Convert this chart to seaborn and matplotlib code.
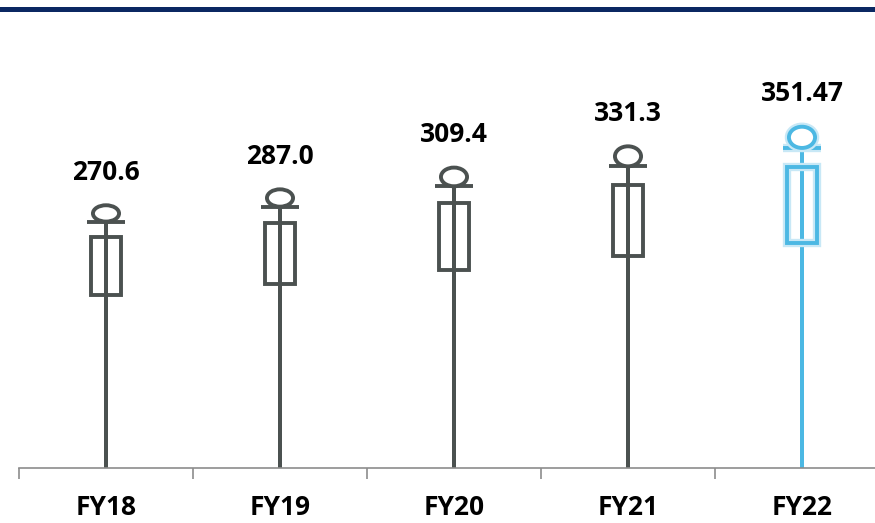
import seaborn as sns
import matplotlib.pyplot as plt
import pandas as pd
from matplotlib.patches import Ellipse, Rectangle

years = ["FY18", "FY19", "FY20", "FY21", "FY22"]
values = [270.6, 287.0, 309.4, 331.3, 351.47]
labels = ["270.6", "287.0", "309.4", "331.3", "351.47"]
colors = ["#4b5150", "#4b5150", "#4b5150", "#4b5150", "#4cb8e3"]

df = pd.DataFrame({"year": years, "value": values})

sns.set_theme(style="white")
plt.rcParams["font.family"] = ["Open Sans", "DejaVu Sans"]

fig = plt.figure(figsize=(8.75, 5.23), dpi=100)
ax = fig.add_axes([19 / 875, 55 / 523, 870 / 875, 448 / 523])

# stems of the little figures
sns.barplot(data=df, x="year", y="value", hue="year", palette=colors,
            width=0.024, linewidth=0, saturation=1, legend=False, ax=ax, zorder=2)


def draw_person(i, v, c, lw):
    # head, shoulders and body of one pictogram
    ax.add_patch(Ellipse((i, v * 0.966), 0.15, v * 0.062, facecolor="white",
                         edgecolor=c, lw=lw, zorder=4))
    ax.add_patch(Rectangle((i - 0.085, v * 0.658), 0.17, v * 0.22,
                           facecolor="none", edgecolor=c, lw=lw, zorder=3))
    ax.plot([i - 0.11, i + 0.11], [v * 0.935, v * 0.935], color=c, lw=lw,
            zorder=3, solid_capstyle="butt")


for i, (v, c, lab) in enumerate(zip(values, colors, labels)):
    if i == len(values) - 1:
        # soft halo round the highlighted figure
        draw_person(i, v, "#c8e8f6", 6)
    draw_person(i, v, c, 2.8)
    ax.text(i, v + 33, lab, ha="center", va="center", fontsize=19,
            fontweight="bold", color="black")

ax.set_xlim(-0.5, 4.5)
ax.set_ylim(0, 460)
ax.set_xlabel("")
ax.set_ylabel("")
ax.set_yticks([])
ax.set_xticks(range(len(years)))
ax.set_xticklabels(years, fontsize=19, fontweight="bold", color="black")
ax.set_xticks([-0.5, 0.5, 1.5, 2.5, 3.5, 4.5], minor=True)
ax.tick_params(axis="x", which="major", length=0, pad=19)
ax.tick_params(axis="x", which="minor", bottom=True, length=8, width=1.2,
               color="#8c8c8c", direction="out")
for s in ["top", "right", "left"]:
    ax.spines[s].set_visible(False)
ax.spines["bottom"].set_color("#8c8c8c")
ax.spines["bottom"].set_linewidth(1.2)

# navy rule along the top
fig.add_artist(Rectangle((0, 1 - 12 / 523), 1, 5 / 523, transform=fig.transFigure,
                         facecolor="#0b2862", edgecolor="none"))

fig.savefig("out.png", dpi=100)
